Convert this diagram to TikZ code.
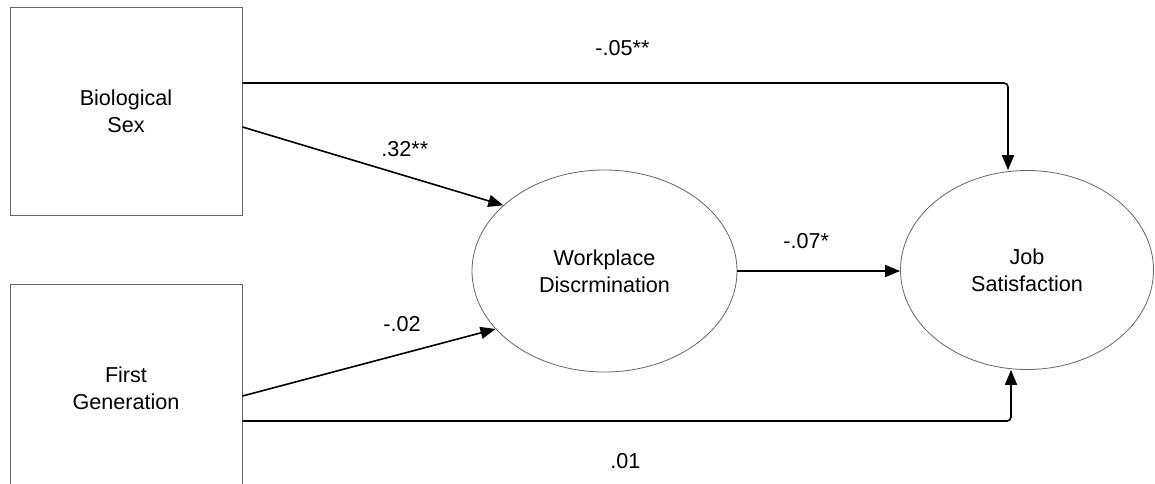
\documentclass[tikz,border=0pt]{standalone}
\usepackage{fontspec}
\setmainfont{Liberation Sans}
\usetikzlibrary{arrows.meta,shapes.geometric}
\begin{document}
\begin{tikzpicture}[x=0.5pt,y=-0.5pt,
 every node/.style={font=\fontsize{10.8}{13.5}\selectfont},
 boxnode/.style={draw=black!60,line width=0.5pt,minimum width=116pt,minimum height=104pt,inner sep=0pt,align=center},
 ellnode/.style={ellipse,draw=black!60,line width=0.4pt,inner sep=0pt,align=center},
 conn/.style={line width=0.8pt,rounded corners=2pt,-{Triangle[length=7.5pt,width=6pt]}},
 lbl/.style={anchor=base west,inner sep=0pt}]
\useasboundingbox (0,0) rectangle (1155,483);
\fill[white] (0,0) rectangle (1155,483);
\begin{scope}
\clip (0,0) rectangle (1155,483);
\node[boxnode] (bs) at (126,111) {Biological\\Sex};
\node[boxnode] (fg) at (126,388) {First\\Generation};
\end{scope}
\node[ellnode,minimum width=132.5pt,minimum height=101pt] (wd) at (604.5,271) {Workplace\\Discrmination};
\node[ellnode,minimum width=126.5pt,minimum height=99.5pt] (js) at (1027,270) {Job\\Satisfaction};
\draw[conn] ([yshift=14pt]bs.east) -| ([xshift=-9.5pt]js.north);
\draw[conn] ([yshift=-8pt]bs.east) -- (wd.147.4);
\draw[conn] ([yshift=-4pt]fg.east) -- (wd.208.3);
\draw[conn] ([yshift=-16.5pt]fg.east) -| ([xshift=-8pt]js.south);
\draw[conn] (wd.east) -- (wd.east -| js.west);
\node[lbl] (l1) at (595,55) {-.05**};
\node[lbl] (l2) at (381,156) {.32**};
\node[lbl] (l3) at (383,331) {-.02};
\node[lbl] (l4) at (610,468) {.01};
\node[lbl] (l5) at (783,248) {-.07*};
\end{tikzpicture}
\end{document}
